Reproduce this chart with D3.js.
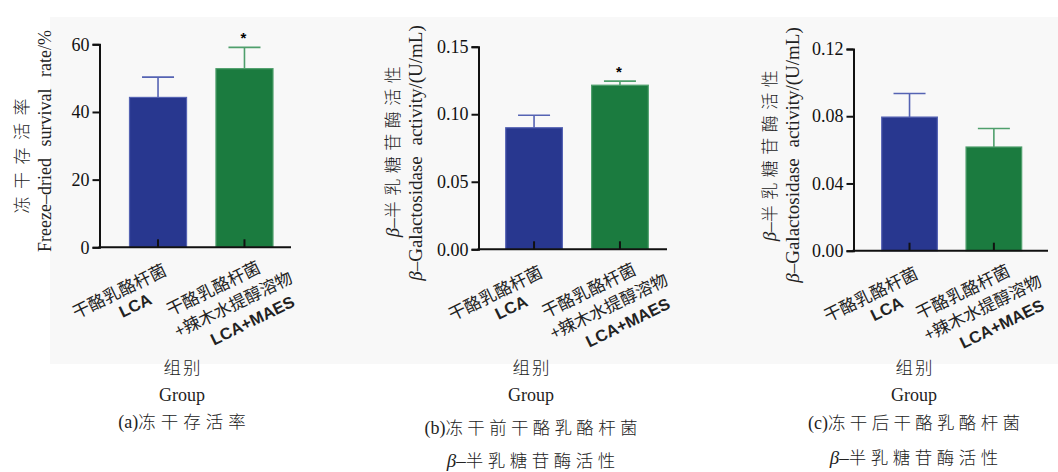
<!DOCTYPE html>
<html><head><meta charset="utf-8">
<script src="https://cdn.jsdelivr.net/npm/d3@7/dist/d3.min.js"></script>
<style>
html,body{margin:0;padding:0;background:#fff;}
svg{display:block;}
</style></head>
<body>
<svg id="c" width="1058" height="472"></svg>
<script>
// ---------- DATA ----------
const categories = ["LCA", "LCA+MAES"];
const categoryLines = [
  ["干酪乳酪杆菌", "LCA"],
  ["干酪乳酪杆菌", "+辣木水提醇溶物", "LCA+MAES"]
];
const survivalMean = [44.3, 52.8];
const survivalErr = [6.0, 6.3];
const galBeforeMean = [0.090, 0.1215];
const galBeforeErr = [0.0093, 0.0030];
const galAfterMean = [0.0795, 0.0617];
const galAfterErr = [0.0140, 0.0110];
const sigA = [false, true];
const sigB = [false, true];
const sigC = [false, false];
const ticksA = [0, 20, 40, 60];
const ticksB = [0, 0.05, 0.10, 0.15];
const ticksC = [0, 0.04, 0.08, 0.12];
const barColors = ["#28378f", "#1b7b3f"];
const edgeColors = ["#5563b3", "#4f9f6c"];

// ---------- LAYOUT ----------
const svg = d3.select("#c");
const serif = "'Liberation Serif','Times New Roman',serif";
const cjk = "'Noto Sans CJK SC','Noto Sans CJK JP',sans-serif";
const sans = "'Liberation Sans',Arial,sans-serif";

svg.append("rect").attr("x", 50).attr("y", 17).attr("width", 1008).attr("height", 347).attr("fill", "#f8f8f8");

const panels = [
  {mean: survivalMean, err: survivalErr, sig: sigA, ticks: ticksA, dom: [0, 60], fmt: d3.format("d"),
   ax: 99.5, y0: 247.3, yT: 44.3, b0: 129.5, b1: 273, xEnd: 291,
   t1x: 28, t1y: 156, t1ls: 7.5, t2x: 51, t2y: 141, t2fs: 18, t2ws: 7},
  {mean: galBeforeMean, err: galBeforeErr, sig: sigB, ticks: ticksB, dom: [0, 0.15], fmt: d3.format(".2f"),
   ax: 478.5, y0: 249.3, yT: 46.7, b0: 505.7, b1: 648.3, xEnd: 667,
   t1x: 399, t1y: 149, t1ls: 5.5, t2x: 422, t2y: 153, t2fs: 19, t2ws: 6},
  {mean: galAfterMean, err: galAfterErr, sig: sigC, ticks: ticksC, dom: [0, 0.12], fmt: d3.format(".2f"),
   ax: 853.5, y0: 250.7, yT: 49, b0: 881.7, b1: 1021.7, xEnd: 1048,
   t1x: 776, t1y: 153, t1ls: 5.5, t2x: 799, t2y: 155, t2fs: 19, t2ws: 6}
];

// offsets of x label lines in rotated frame [along, perp]
const lineOffsets = [
  [[-54, 21], [-46, 42]],
  [[-46, 22], [-35, 45], [-25, 69]]
];
const angle = -26;

panels.forEach((p, pi) => {
  const g = svg.append("g");
  const y = d3.scaleLinear().domain(p.dom).range([p.y0, p.yT]);
  const x = d3.scaleBand().domain(categories).range([p.b0, p.b1]).paddingInner(0.34).paddingOuter(0);

  // bars
  g.selectAll("rect.bar").data(categories).enter().append("rect")
    .attr("x", d => x(d)).attr("width", x.bandwidth())
    .attr("y", (d, i) => y(p.mean[i])).attr("height", (d, i) => y(0) - y(p.mean[i]))
    .attr("fill", (d, i) => barColors[i]).attr("stroke", (d, i) => edgeColors[i]).attr("stroke-width", 1.2);

  // error bars
  categories.forEach((c, i) => {
    const cx = x(c) + x.bandwidth() / 2;
    const top = y(p.mean[i] + p.err[i]);
    g.append("line").attr("x1", cx).attr("x2", cx).attr("y1", y(p.mean[i])).attr("y2", top)
      .attr("stroke", edgeColors[i]).attr("stroke-width", 1.6);
    g.append("line").attr("x1", cx - 16).attr("x2", cx + 16).attr("y1", top).attr("y2", top)
      .attr("stroke", edgeColors[i]).attr("stroke-width", 1.6);
    if (p.sig[i]) {
      g.append("text").attr("x", cx - 1).attr("y", top - 4).attr("text-anchor", "middle")
        .attr("font-family", sans).attr("font-weight", "bold").attr("font-size", 15).text("*");
    }
  });

  // y axis
  const yAxis = d3.axisLeft(y).tickValues(p.ticks).tickFormat(p.fmt).tickSizeOuter(0).tickSize(7).tickPadding(3);
  const ya = g.append("g").attr("transform", `translate(${p.ax},0)`).call(yAxis);
  ya.select(".domain").attr("stroke", "#111").attr("stroke-width", 2);
  ya.selectAll(".tick line").attr("stroke", "#111").attr("stroke-width", 2);
  ya.selectAll(".tick text").attr("font-family", serif).attr("font-size", 18).attr("fill", "#111");

  // x axis line
  g.append("line").attr("x1", p.ax - 1).attr("x2", p.xEnd).attr("y1", p.y0).attr("y2", p.y0)
    .attr("stroke", "#111").attr("stroke-width", 2);
  // x ticks (pointing up)
  categories.forEach(c => {
    const cx = x(c) + x.bandwidth() / 2;
    g.append("line").attr("x1", cx).attr("x2", cx).attr("y1", p.y0).attr("y2", p.y0 - 8)
      .attr("stroke", "#111").attr("stroke-width", 2);
  });

  // rotated category labels
  categories.forEach((c, i) => {
    const cx = x(c) + x.bandwidth() / 2;
    const lg = g.append("g").attr("transform", `translate(${cx},${p.y0}) rotate(${angle})`);
    categoryLines[i].forEach((ln, li) => {
      const isLatin = /^[A-Z+]+$/.test(ln);
      lg.append("text").attr("x", lineOffsets[i][li][0]).attr("y", lineOffsets[i][li][1])
        .attr("text-anchor", "middle").attr("dominant-baseline", "central")
        .attr("font-family", isLatin ? sans : cjk)
        .attr("font-weight", isLatin ? "bold" : 400)
        .attr("font-size", isLatin ? 16.5 : 17).attr("fill", "#222")
        .text(ln);
    });
  });

  // y titles
  const t1 = g.append("text").attr("transform", `translate(${p.t1x},${p.t1y}) rotate(-90)`)
    .attr("text-anchor", "middle").attr("font-size", 17).attr("fill", "#222");
  if (pi === 0) {
    t1.attr("font-family", cjk).attr("font-weight", 300).attr("letter-spacing", p.t1ls)
      .attr("dx", p.t1ls / 2).text("冻干存活率");
  } else {
    t1.append("tspan").attr("font-family", serif).attr("font-style", "italic").attr("font-size", 19).text("β");
    t1.append("tspan").attr("font-family", serif).attr("font-size", 19).text("–");
    t1.append("tspan").attr("font-family", cjk).attr("font-weight", 300)
      .attr("letter-spacing", p.t1ls).text("半乳糖苷酶活性");
  }
  const t2 = g.append("text").attr("transform", `translate(${p.t2x},${p.t2y}) rotate(-90)`)
    .attr("text-anchor", "middle").attr("font-size", p.t2fs).attr("fill", "#222")
    .attr("font-family", serif).attr("word-spacing", p.t2ws);
  if (pi === 0) {
    t2.text("Freeze–dried survival rate/%");
  } else {
    t2.append("tspan").attr("font-style", "italic").text("β");
    t2.append("tspan").text("–Galactosidase activity/(U/mL)");
  }
});

// bottom captions
const caps = [
  {x: 182, lines: [{t: "组别", y: 374, ls: 2, f: "cjk"}, {t: "Group", y: 401, f: "serif"},
                   {t: "(a)冻干存活率", y: 428, ls: 5, f: "mix"}]},
  {x: 531, lines: [{t: "组别", y: 374, ls: 2, f: "cjk"}, {t: "Group", y: 401, f: "serif"},
                   {t: "(b)冻干前干酪乳酪杆菌", y: 434, ls: 4.3, f: "mix"},
                   {t: "β–半乳糖苷酶活性", y: 467, ls: 4.5, f: "beta"}]},
  {x: 914, lines: [{t: "组别", y: 374, ls: 2, f: "cjk"}, {t: "Group", y: 401, f: "serif"},
                   {t: "(c)冻干后干酪乳酪杆菌", y: 429, ls: 4.3, f: "mix"},
                   {t: "β–半乳糖苷酶活性", y: 464, ls: 4.5, f: "beta"}]}
];
caps.forEach(cp => {
  cp.lines.forEach(l => {
    const t = svg.append("text").attr("x", cp.x).attr("y", l.y).attr("text-anchor", "middle")
      .attr("font-size", 17.5).attr("fill", "#222");
    if (l.ls) t.attr("dx", l.ls / 2);
    if (l.f === "cjk") t.attr("font-family", cjk).attr("font-weight", 300).attr("letter-spacing", l.ls).text(l.t);
    else if (l.f === "serif") t.attr("font-family", serif).attr("font-size", 18).text(l.t);
    else if (l.f === "mix") {
      t.append("tspan").attr("font-family", serif).attr("font-size", 18).text(l.t.slice(0, 3));
      t.append("tspan").attr("font-family", cjk).attr("font-weight", 300).attr("letter-spacing", l.ls).text(l.t.slice(3));
    } else {
      t.append("tspan").attr("font-family", serif).attr("font-style", "italic").attr("font-size", 19).text("β");
      t.append("tspan").attr("font-family", serif).attr("font-size", 19).text("–");
      t.append("tspan").attr("font-family", cjk).attr("font-weight", 300).attr("letter-spacing", l.ls).text(l.t.slice(2));
    }
  });
});
</script>
</body></html>
